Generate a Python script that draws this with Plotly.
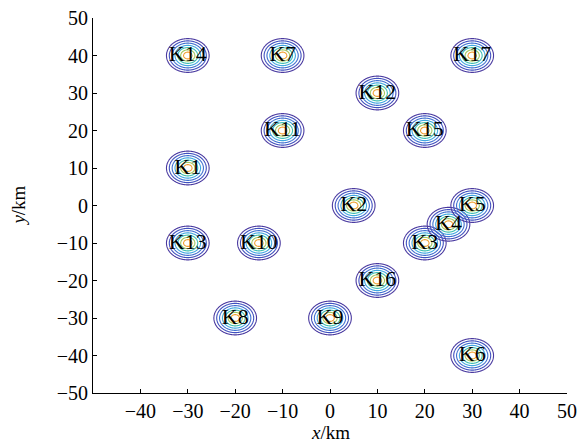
import numpy as np
import plotly.graph_objects as go

names = ["K1", "K2", "K3", "K4", "K5", "K6", "K7", "K8", "K9", "K10",
         "K11", "K12", "K13", "K14", "K15", "K16", "K17"]
xs = [-30, 5, 20, 25, 30, 30, -10, -20, 0, -15, -10, 10, -30, -30, 20, 10, 30]
ys = [10, 0, -10, -5, 0, -40, 40, -30, -30, -10, 20, 30, -10, 40, 20, -20, 40]

x_ticks = [-40, -30, -20, -10, 0, 10, 20, 30, 40, 50]
y_ticks = [-50, -40, -30, -20, -10, 0, 10, 20, 30, 40, 50]

ring_colors = [
    [0.0, "#f0a030"],
    [0.17, "#a0c860"],
    [0.33, "#40c0b0"],
    [0.5, "#40a8e0"],
    [0.67, "#4070d0"],
    [0.83, "#4050c0"],
    [1.0, "#4a3aa0"],
]

fig = go.Figure()

for cx, cy in zip(xs, ys):
    gx = np.linspace(cx - 5.5, cx + 5.5, 111)
    gy = np.linspace(cy - 5.5, cy + 5.5, 111)
    X, Y = np.meshgrid(gx, gy)
    Z = np.hypot(X - cx, Y - cy)
    fig.add_trace(go.Contour(
        x=gx, y=gy, z=Z,
        contours=dict(start=0.9, end=4.5, size=0.6, coloring="lines"),
        colorscale=ring_colors, zmin=0.9, zmax=4.5,
        line=dict(width=1.1), showscale=False, hoverinfo="skip",
    ))

fig.add_trace(go.Scatter(
    x=xs, y=ys, text=names, mode="text", textposition="middle center",
    textfont=dict(family="Liberation Serif", size=22, color="black"),
    showlegend=False,
))

axis_common = dict(
    showgrid=False, zeroline=False, showline=True, linecolor="black", linewidth=1,
    ticks="inside", ticklen=4, tickcolor="black", mirror=False, automargin=False,
    tickfont=dict(family="Liberation Serif", size=20, color="black"),
)

fig.update_xaxes(range=[-50, 50], tickvals=x_ticks, **axis_common)
fig.update_yaxes(range=[-50, 50], tickvals=y_ticks, **axis_common)

fig.update_layout(
    width=587, height=443,
    margin=dict(l=93, r=20, t=18, b=50),
    plot_bgcolor="white", paper_bgcolor="white",
    showlegend=False,
    annotations=[
        dict(text="<i>x</i>/km", xref="paper", yref="paper", x=0.5, y=-0.104,
             xanchor="center", yanchor="middle", showarrow=False,
             font=dict(family="Liberation Serif", size=19, color="black")),
        dict(text="<i>y</i>/km", xref="paper", yref="paper", x=-0.158, y=0.5,
             xanchor="center", yanchor="middle", showarrow=False, textangle=-90,
             font=dict(family="Liberation Serif", size=19, color="black")),
    ],
)

fig.write_html("out.html", config={"displayModeBar": False},
               post_script="document.body.style.margin='0';")
